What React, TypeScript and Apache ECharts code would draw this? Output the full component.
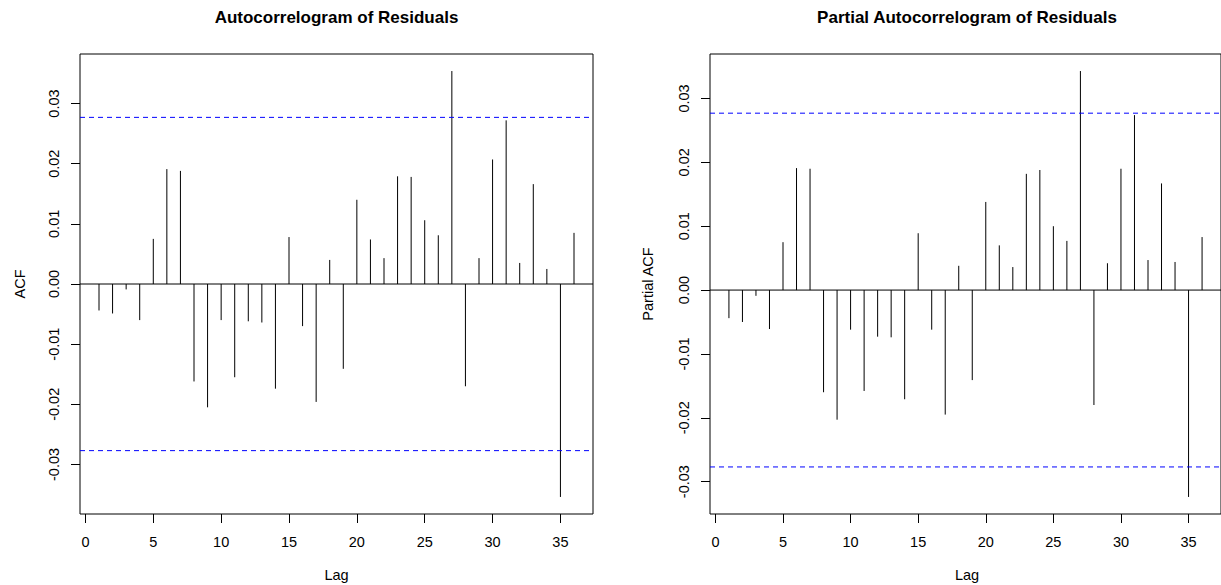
import React, { useEffect, useRef } from "react";
import * as echarts from "echarts";

const lags = [1, 2, 3, 4, 5, 6, 7, 8, 9, 10, 11, 12, 13, 14, 15, 16, 17, 18, 19, 20, 21, 22, 23, 24, 25, 26, 27, 28, 29, 30, 31, 32, 33, 34, 35, 36];

const acfValues = [
  -0.0044, -0.0049, -0.0009, -0.006, 0.0075, 0.0191, 0.0188, -0.0162, -0.0205, -0.006,
  -0.0155, -0.0062, -0.0064, -0.0174, 0.0078, -0.007, -0.0196, 0.004, -0.0141, 0.014,
  0.0074, 0.0043, 0.0179, 0.0178, 0.0106, 0.0081, 0.0354, -0.017, 0.0043, 0.0207,
  0.0272, 0.0035, 0.0166, 0.0025, -0.0354, 0.0085,
];

const pacfValues = [
  -0.0044, -0.005, -0.0009, -0.0061, 0.0075, 0.0191, 0.019, -0.016, -0.0203, -0.0062,
  -0.0158, -0.0073, -0.0074, -0.0171, 0.0089, -0.0062, -0.0195, 0.0038, -0.0141, 0.0138,
  0.007, 0.0036, 0.0182, 0.0188, 0.01, 0.0077, 0.0343, -0.018, 0.0042, 0.019,
  0.0274, 0.0047, 0.0167, 0.0044, -0.0324, 0.0083,
];

const confLimit = 0.0277;
const xTickValues = [0, 5, 10, 15, 20, 25, 30, 35];
const yTickValues = [-0.03, -0.02, -0.01, 0, 0.01, 0.02, 0.03];

const titles = ["Autocorrelogram of Residuals", "Partial Autocorrelogram of Residuals"];
const yNames = ["ACF", "Partial ACF"];
const xName = "Lag";

const FONT = "'Liberation Sans', Arial, Helvetica, sans-serif";

function extRange(vals: number[]) {
  const lo = Math.min(...vals);
  const hi = Math.max(...vals);
  const d = (hi - lo) * 0.04;
  return [lo - d, hi + d];
}

export default function App() {
  const ref = useRef<HTMLDivElement>(null);

  useEffect(() => {
    if (!ref.current) return;
    const chart = echarts.init(ref.current, null, { renderer: "svg" });

    const xr = extRange(lags);
    const yr1 = extRange([...acfValues, confLimit, -confLimit]);
    const yr2 = extRange([...pacfValues, confLimit, -confLimit]);

    const grids = [
      { left: 80, top: 54, width: 513, height: 460 },
      { left: 710, top: 54, width: 514, height: 460 },
    ];

    const mkX = (i: number) => ({
      type: "value",
      gridIndex: i,
      min: xr[0],
      max: xr[1],
      splitLine: { show: false },
      axisLine: { show: false, onZero: false },
      axisTick: { show: true, length: 9, customValues: xTickValues, lineStyle: { color: "#000" } },
      axisLabel: {
        show: true,
        customValues: xTickValues,
        margin: 20,
        color: "#000",
        fontSize: 14.5,
        fontFamily: FONT,
        formatter: (v: number) => String(v),
      },
    });

    const mkY = (i: number, r: number[]) => ({
      type: "value",
      gridIndex: i,
      min: r[0],
      max: r[1],
      splitLine: { show: false },
      axisLine: { show: false, onZero: false },
      axisTick: { show: true, length: 9, customValues: yTickValues, lineStyle: { color: "#000" } },
      axisLabel: {
        show: true,
        customValues: yTickValues,
        rotate: 90,
        margin: 19,
        color: "#000",
        fontSize: 14.5,
        fontFamily: FONT,
        formatter: (v: number) => v.toFixed(2),
      },
    });

    const mkStems = (i: number, vals: number[]) => ({
      type: "custom",
      xAxisIndex: i,
      yAxisIndex: i,
      data: lags.map((l, k) => [l, vals[k]]),
      encode: { x: 0, y: 1 },
      renderItem: (params: any, api: any) => {
        const x = api.value(0);
        const y = api.value(1);
        const p0 = api.coord([x, 0]);
        const p1 = api.coord([x, y]);
        return {
          type: "line",
          shape: { x1: p0[0], y1: p0[1], x2: p1[0], y2: p1[1] },
          style: { stroke: "#000", lineWidth: 1 },
        };
      },
      silent: true,
    });

    const mkHLine = (i: number, v: number, color: string, dashed: boolean) => ({
      type: "line",
      xAxisIndex: i,
      yAxisIndex: i,
      data: [
        [xr[0], v],
        [xr[1], v],
      ],
      symbol: "none",
      silent: true,
      lineStyle: { color, width: 1, type: dashed ? [5, 4] : "solid" },
    });

    const centers = [80 + 513 / 2, 710 + 514 / 2];

    const series: any[] = [];
    [acfValues, pacfValues].forEach((vals, i) => {
      series.push(mkHLine(i, 0, "#000", false));
      series.push(mkHLine(i, confLimit, "#0000ff", true));
      series.push(mkHLine(i, -confLimit, "#0000ff", true));
      series.push(mkStems(i, vals));
    });

    const option: any = {
      animation: false,
      backgroundColor: "#fff",
      grid: grids.map((g) => ({ ...g, show: true, borderColor: "#000", borderWidth: 1, backgroundColor: "transparent" })),
      xAxis: [mkX(0), mkX(1)],
      yAxis: [mkY(0, yr1), mkY(1, yr2)],
      series,
      graphic: [
        ...titles.map((t, i) => ({
          type: "text",
          x: centers[i],
          y: 17,
          style: { text: t, fill: "#000", fontSize: 17, fontWeight: "bold", fontFamily: FONT, align: "center", verticalAlign: "middle" },
        })),
        ...yNames.map((t, i) => ({
          type: "text",
          x: [20, 648][i],
          y: 284,
          rotation: Math.PI / 2,
          style: { text: t, fill: "#000", fontSize: 14.5, fontFamily: FONT, align: "center", verticalAlign: "middle" },
        })),
        ...centers.map((c) => ({
          type: "text",
          x: c,
          y: 575,
          style: { text: xName, fill: "#000", fontSize: 14.5, fontFamily: FONT, align: "center", verticalAlign: "middle" },
        })),
      ],
    };

    chart.setOption(option);
    return () => chart.dispose();
  }, []);

  return <div ref={ref} style={{ position: "fixed", left: 0, top: 0, width: 1221, height: 585 }} />;
}
